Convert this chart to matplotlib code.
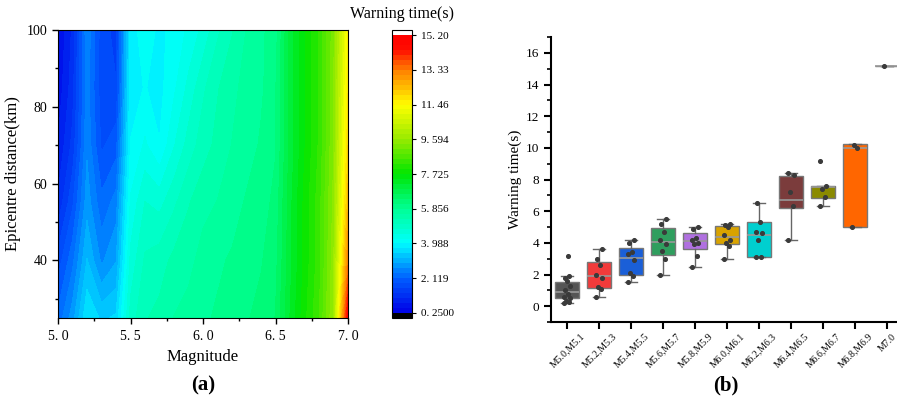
import numpy as np
import matplotlib
matplotlib.use("Agg")
import matplotlib.pyplot as plt
from matplotlib.colors import LinearSegmentedColormap
from matplotlib.ticker import MultipleLocator, FixedLocator

plt.rcParams['font.family'] = ['Liberation Serif', 'DejaVu Serif']

# ---- data (a): warning time over magnitude / epicentre distance ----
magnitudes = [5.0, 5.1, 5.2, 5.3, 5.4, 5.5, 5.6, 5.7, 5.8, 5.9, 6.0,
              6.1, 6.2, 6.3, 6.4, 6.5, 6.6, 6.7, 6.8, 6.9, 7.0]
distances = [25, 40, 55, 70, 85, 100]
warn_d25 = [2.2, 2.8, 3.7, 3.4, 3.5, 4.9, 5.3, 5.4, 5.6, 5.7, 5.8,
            5.9, 6.0, 6.1, 6.2, 6.4, 7.2, 7.9, 8.5, 9.6, 14.8]
warn_d40 = [1.7, 2.3, 3.2, 2.6, 2.9, 4.6, 5.1, 5.2, 5.4, 5.5, 5.7,
            5.8, 5.9, 6.0, 6.1, 6.3, 7.1, 7.8, 8.4, 9.5, 13.2]
warn_d55 = [1.1, 1.8, 2.8, 2.2, 2.5, 4.3, 4.8, 4.7, 5.0, 5.3, 5.5,
            5.6, 5.7, 5.9, 6.0, 6.2, 7.1, 7.8, 8.4, 9.4, 12.4]
warn_d70 = [0.8, 1.4, 2.6, 1.8, 2.0, 4.0, 4.3, 4.0, 4.5, 4.9, 5.2,
            5.4, 5.6, 5.7, 5.9, 6.1, 7.0, 7.7, 8.3, 9.3, 12.0]
warn_d85 = [0.6, 1.2, 2.5, 1.7, 1.6, 3.9, 4.0, 3.9, 4.2, 4.6, 5.0,
            5.3, 5.5, 5.7, 5.8, 6.1, 7.0, 7.7, 8.3, 9.3, 11.7]
warn_d100 = [0.5, 1.1, 2.6, 1.7, 1.5, 3.8, 4.2, 3.9, 4.1, 4.3, 4.6,
             5.0, 5.3, 5.6, 5.8, 6.0, 7.0, 7.7, 8.3, 9.2, 11.5]
cbar_ticks = [0.25, 2.119, 3.988, 5.856, 7.725, 9.594, 11.46, 13.33, 15.20]
cbar_labels = ['0. 2500', '2. 119', '3. 988', '5. 856', '7. 725',
               '9. 594', '11. 46', '13. 33', '15. 20']

# ---- data (b): warning time per magnitude group ----
groups = ['M5.0,M5.1', 'M5.2,M5.3', 'M5.4,M5.5', 'M5.6,M5.7', 'M5.8,M5.9',
          'M6.0,M6.1', 'M6.2,M6.3', 'M6.4,M6.5', 'M6.6,M6.7', 'M6.8,M6.9', 'M7.0']
q1 = [0.5, 1.15, 2.0, 3.25, 3.58, 3.92, 3.08, 6.2, 6.85, 5.02, 15.2]
med = [0.87, 1.92, 3.03, 4.08, 4.14, 4.36, 4.52, 6.73, 7.5, 10.0, 15.2]
q3 = [1.5, 2.8, 3.7, 4.94, 4.6, 5.05, 5.3, 8.2, 7.62, 10.22, 15.2]
whislo = [0.2, 0.6, 1.5, 2.0, 2.5, 3.0, 3.08, 4.2, 6.3, 5.02, 15.2]
whishi = [1.9, 3.6, 4.2, 5.5, 5.0, 5.2, 6.5, 8.4, 7.62, 10.22, 15.2]
points = [
    [0.2, 0.25, 0.35, 0.5, 0.6, 0.8, 1.0, 1.3, 1.6, 1.75, 1.9, 3.2],
    [0.6, 1.1, 1.2, 1.8, 1.95, 2.6, 3.0, 3.6],
    [1.5, 1.9, 2.1, 2.9, 3.3, 3.4, 4.0, 4.2],
    [2.0, 3.0, 3.5, 3.9, 4.2, 4.7, 5.2, 5.5],
    [2.5, 3.2, 3.9, 4.0, 4.2, 4.3, 4.9, 5.0],
    [3.0, 3.8, 4.0, 4.2, 4.5, 5.0, 5.1, 5.2],
    [3.1, 3.1, 4.2, 4.6, 4.7, 5.3, 6.5],
    [4.2, 6.3, 7.2, 8.3, 8.4],
    [6.3, 6.9, 7.4, 7.6, 9.2],
    [5.0, 10.0, 10.2],
    [15.2],
]
box_colors = ['#555555', '#f23b3b', '#1a5fd8', '#2f9e5e', '#b070e0', '#d9a300',
              '#00cfcf', '#7b3c3c', '#8a8a00', '#ff6600', '#888888']
jitter = [-0.08, 0.06, -0.02, 0.1, -0.1, 0.03, -0.05, 0.08, 0.0, -0.06, 0.05, 0.02]

fig = plt.figure(figsize=(8.97, 4.0), dpi=100)

# ---------------- panel (a) ----------------
ax1 = fig.add_axes([58/897, 1-318/400, 290/897, 288/400])
cmap = LinearSegmentedColormap.from_list('origin_rainbow', [
    (0.00, (0.0, 0.0, 0.9)),
    (0.12, (0.0, 0.36, 1.0)),
    (0.25, (0.0, 1.0, 1.0)),
    (0.375, (0.0, 1.0, 0.58)),
    (0.44, (0.0, 0.95, 0.3)),
    (0.50, (0.0, 0.9, 0.0)),
    (0.625, (0.6, 0.92, 0.0)),
    (0.75, (1.0, 1.0, 0.0)),
    (0.875, (1.0, 0.5, 0.0)),
    (0.95, (1.0, 0.05, 0.0)),
    (1.00, (1.0, 0.0, 0.0)),
])
cmap.set_under('black')
cmap.set_over('white')
levels = np.linspace(0.25, 15.2, 57)
Z = np.array([warn_d25, warn_d40, warn_d55, warn_d70, warn_d85, warn_d100])
cf = ax1.contourf(magnitudes, distances, Z, levels=levels, cmap=cmap, extend='both')
ax1.set_xlim(5.0, 7.0)
ax1.set_ylim(25, 100)
ax1.xaxis.set_major_locator(FixedLocator([5.0, 5.5, 6.0, 6.5, 7.0]))
ax1.set_xticklabels(['5. 0', '5. 5', '6. 0', '6. 5', '7. 0'])
ax1.xaxis.set_minor_locator(MultipleLocator(0.25))
ax1.yaxis.set_major_locator(MultipleLocator(20))
ax1.yaxis.set_minor_locator(MultipleLocator(10))
ax1.tick_params(which='both', direction='out', labelsize=10, width=1)
ax1.tick_params(which='major', length=4)
ax1.tick_params(which='minor', length=2.5)
ax1.tick_params(axis='x', pad=5)
ax1.set_xlabel('Magnitude', fontsize=12)
ax1.set_ylabel('Epicentre distance(km)', fontsize=12)

cax = fig.add_axes([392/897, 1-318/400, 20/897, 288/400])
cb = fig.colorbar(cf, cax=cax, extend='both', extendrect=True, extendfrac=0.018)
cb.set_ticks(cbar_ticks)
cb.set_ticklabels(cbar_labels)
cb.ax.tick_params(labelsize=8, length=3, width=0.8)
cb.outline.set_linewidth(0.8)
fig.text(402/897, 1-14/400, 'Warning time(s)', ha='center', va='center', fontsize=11.5)

fig.text(203/897, 1-385/400, '(a)', ha='center', va='center', fontsize=15, fontweight='bold')

# ---------------- panel (b) ----------------
ax2 = fig.add_axes([551/897, 1-322/400, 352/897, 285/400])
stats = []
for i in range(len(groups)):
    stats.append({'q1': q1[i], 'med': med[i], 'q3': q3[i],
                  'whislo': whislo[i], 'whishi': whishi[i], 'fliers': []})
bp = ax2.bxp(stats, positions=range(len(groups)), widths=0.72, patch_artist=True,
             showfliers=False,
             boxprops=dict(edgecolor='#777777', linewidth=1.0),
             medianprops=dict(color='#999999', linewidth=1.2),
             whiskerprops=dict(color='#666666', linewidth=1.0),
             capprops=dict(color='#666666', linewidth=1.0))
for patch, c in zip(bp['boxes'], box_colors):
    patch.set_facecolor(c)
for i, vals in enumerate(points):
    xs = [i + jitter[k] for k in range(len(vals))]
    ax2.scatter(xs, vals, s=7, color='#3a3a3a', zorder=5)

ax2.set_xlim(-0.5, 10.5)
ax2.set_ylim(-1, 17)
ax2.set_xticks(range(len(groups)))
ax2.yaxis.set_major_locator(MultipleLocator(2))
ax2.yaxis.set_minor_locator(MultipleLocator(1))
ax2.spines['top'].set_visible(False)
ax2.spines['right'].set_visible(False)
ax2.spines['left'].set_linewidth(1.5)
ax2.spines['bottom'].set_linewidth(1.5)
ax2.tick_params(which='major', direction='out', length=5, width=1.5)
ax2.tick_params(which='minor', direction='out', length=3, width=1.2)
ax2.tick_params(axis='y', labelsize=9.5)
ax2.tick_params(axis='x', pad=2)
ax2.set_xticklabels(groups, rotation=45, ha='center', fontsize=7)
ax2.set_ylabel('Warning time(s)', fontsize=11, labelpad=3)

fig.text(726/897, 1-385/400, '(b)', ha='center', va='center', fontsize=15, fontweight='bold')

fig.savefig('out.png', dpi=100)
